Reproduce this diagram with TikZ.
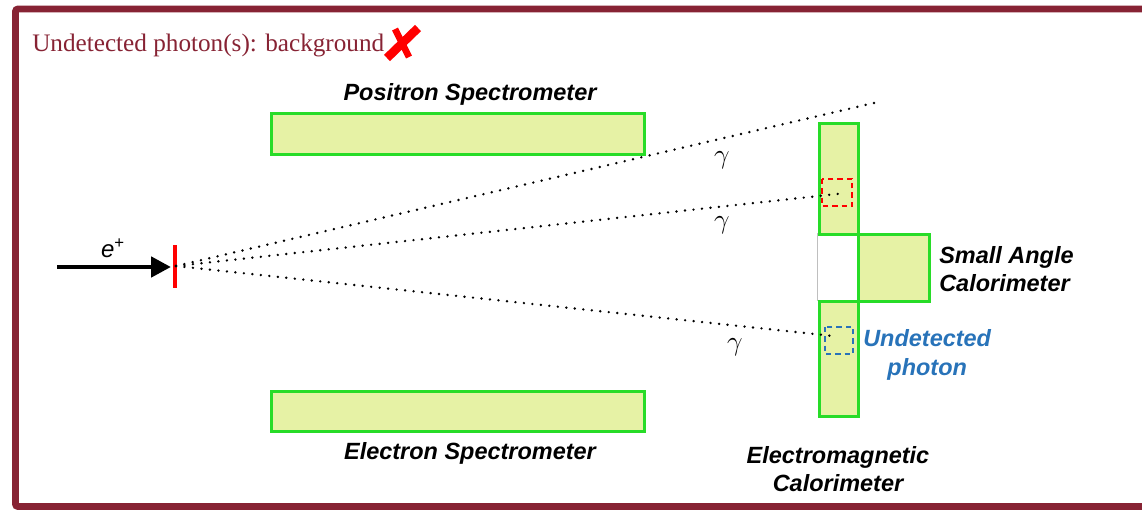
\documentclass[tikz,border=0pt]{standalone}
\usepackage{fontspec}
\setmainfont{Liberation Serif}
\setsansfont{Liberation Sans}
\usetikzlibrary{arrows.meta}
\definecolor{frame}{RGB}{135,35,52}
\definecolor{detfill}{RGB}{230,242,165}
\definecolor{detline}{RGB}{40,220,40}
\definecolor{blu}{RGB}{40,115,185}
\definecolor{xred}{RGB}{255,0,0}
\tikzset{
  det/.style={draw=detline, fill=detfill, line width=2.4pt},
  lbl/.style={font=\sffamily\bfseries\itshape\fontsize{17.6}{21.5}\selectfont, inner sep=0pt},
  photon/.style={line width=2pt, line cap=round, dash pattern=on 0pt off 6.4pt},
  gam/.style={font=\fontsize{20}{22}\selectfont, inner sep=0pt},
}
\begin{document}
\begin{tikzpicture}[x=0.75pt,y=-0.75pt]
\useasboundingbox (0,0) rectangle (1142,510);
% frame
\draw[frame, line width=5.2pt, rounded corners=2pt] (1150,9) -- (15.5,9) -- (15.5,506.5) -- (1150,506.5);
% title
\node[anchor=base west, inner sep=0pt, text=frame, font=\fontsize{18.9}{22}\selectfont] (title) at (32,52) {Undetected photon(s): background};
\draw[xred, line width=6.5pt] (387,58) -- (418,28);
\draw[xred, line width=5pt] (395,29) -- (409,57);
% spectrometers
\node[det, minimum width=373*0.75pt, minimum height=41*0.75pt, inner sep=0pt, anchor=north west] (pos) at (270,112) {};
\node[det, minimum width=373*0.75pt, minimum height=40*0.75pt, inner sep=0pt, anchor=north west] (ele) at (270,390) {};
\node[lbl, anchor=base] (posl) at (470,100) {Positron Spectrometer};
\node[lbl, anchor=base] (elel) at (470,459) {Electron Spectrometer};
% calorimeters
\draw[gray!50, line width=0.6pt] (817,233) rectangle (857,300);
\node[det, minimum width=39*0.75pt, minimum height=111*0.75pt, inner sep=0pt, anchor=north west] (ecalt) at (818,122) {};
\node[det, minimum width=39*0.75pt, minimum height=115*0.75pt, inner sep=0pt, anchor=north west] (ecalb) at (818,300) {};
\node[det, minimum width=71*0.75pt, minimum height=67*0.75pt, inner sep=0pt, anchor=north west] (sac) at (857,233) {};
\node[lbl, anchor=west, align=left] (sacl) at (939,269) {Small Angle\\Calorimeter};
\node[lbl, anchor=north, align=center] (ecall) at (838,446) {Electromagnetic\\Calorimeter};
% dashed boxes
\draw[xred, line width=1.6pt, dash pattern=on 4pt off 3pt] (822,179) rectangle (852,206);
\draw[blu, line width=1.6pt, dash pattern=on 4pt off 3pt] (825,327) rectangle (853,354);
\node[lbl, text=blu, anchor=west, align=center] (undl) at (863,355) {Undetected\\photon};
% target and beam
\coordinate (src) at (176,266);
\draw[xred, line width=2.6pt] (175,245) -- (175,288) coordinate (tgt);
\coordinate (beam) at (57,267);
\draw[line width=3.6pt, -{Triangle[length=15pt,width=15pt]}] (beam) -- (171,267);
\node[font=\sffamily\fontsize{18}{20}\selectfont, inner sep=0pt, anchor=base] (ep) at (113,257) {\textit{e}\textsuperscript{+}};
% photons
\coordinate (g1) at (878,102);
\coordinate (g2) at (846,193);
\coordinate (g3) at (833,336);
\draw[photon] (src) -- (g1);
\draw[photon] (src) -- (g2);
\draw[photon] (src) -- (g3);
\node[gam] (gl1) at (722,160) {$\gamma$};
\node[gam] (gl2) at (722,225) {$\gamma$};
\node[gam] (gl3) at (735,347) {$\gamma$};
\end{tikzpicture}
\end{document}
